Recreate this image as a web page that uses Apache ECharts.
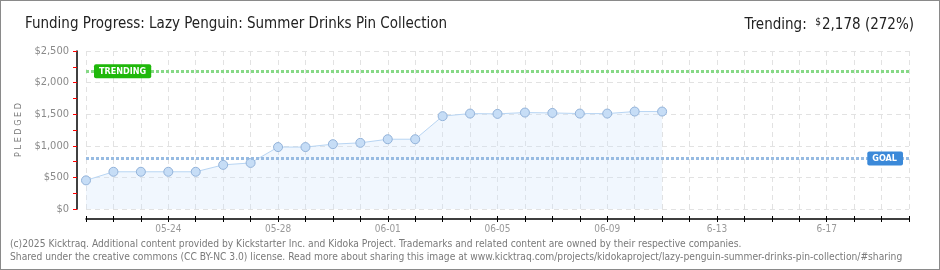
<!DOCTYPE html>
<html>
<head>
<meta charset="utf-8">
<script src="https://cdn.jsdelivr.net/npm/echarts@6/dist/echarts.min.js"></script>
<style>
html, body { margin: 0; padding: 0; background: #fff; }
#chart { width: 940px; height: 270px; box-sizing: border-box; border: 1px solid #8a8a8a; }
</style>
</head>
<body>
<div id="chart"></div>
<script>
var dates = ['05-21', '05-22', '05-23', '05-24', '05-25', '05-26', '05-27', '05-28', '05-29', '05-30', '05-31',
    '06-01', '06-02', '06-03', '06-04', '06-05', '06-06', '06-07', '06-08', '06-09', '06-10', '06-11',
    '6-12', '6-13', '6-14', '6-15', '6-16', '6-17', '6-18', '6-19', '6-20'];
var pledged = [453, 589, 589, 589, 589, 698, 729, 980, 980, 1026, 1047, 1104, 1104, 1469, 1510, 1505, 1526, 1520, 1510, 1510, 1542, 1542];
var goal = 800;
var trending = 2178;
var trendingPct = 272;

var font = '"DejaVu Sans Condensed", "DejaVu Sans", sans-serif';
var myChart = echarts.init(document.getElementById('chart'));

var hiddenValueAxis = function (gi) {
    return { gridIndex: gi, type: 'value', show: false, min: 0, max: 2500 };
};

option = {
    animation: false,
    backgroundColor: '#fff',
    title: [{
        text: 'Funding Progress: Lazy Penguin: Summer Drinks Pin Collection',
        left: 19,
        top: 11,
        textStyle: { fontFamily: font, fontSize: 15, fontWeight: 'normal', color: '#222' }
    }, {
        text: '{l|Trending:  }{s|$}{l|2,178 (' + trendingPct + '%)}',
        right: 20,
        top: 11,
        textStyle: {
            fontWeight: 'normal',
            rich: {
                l: { fontFamily: font, fontSize: 15, fontWeight: 'normal', color: '#222' },
                s: { fontFamily: font, fontSize: 10, fontWeight: 'normal', color: '#222', verticalAlign: 'top', padding: [0, 1, 6, 0] }
            }
        }
    }],
    grid: [
        { left: 85, right: 30, top: 50, bottom: 60 },   // 0: plot
        { left: 76, right: 30, top: 50, bottom: 60 },   // 1: y axis
        { left: 76, right: 30, top: 50, bottom: 60 },   // 2: red $250 ticks
        { left: 85, right: 30, top: 50, bottom: 50 },   // 3: x axis line + labels
        { left: 85, right: 30, top: 50, bottom: 50 }    // 4: inner half of x ticks
    ],
    xAxis: [{
        gridIndex: 0,
        type: 'category',
        data: dates,
        boundaryGap: false,
        axisLine: { show: false },
        axisTick: { show: false },
        axisLabel: { show: false },
        splitLine: {
            show: true,
            interval: 0,
            lineStyle: { color: '#e2e2e2', type: [5, 4] }
        }
    },
    hiddenValueAxis(1),
    hiddenValueAxis(2),
    {
        gridIndex: 3,
        type: 'category',
        data: dates,
        boundaryGap: false,
        axisLine: { show: true, onZero: false, lineStyle: { color: '#000', width: 1.5 } },
        axisTick: { show: true, interval: 0, length: 3, lineStyle: { color: '#000', width: 1 } },
        axisLabel: {
            interval: function (i) { return (i - 3) % 4 === 0; },
            color: '#999',
            fontFamily: font,
            fontSize: 10,
            margin: 5
        },
        splitLine: { show: false }
    }, {
        gridIndex: 4,
        type: 'category',
        data: dates,
        boundaryGap: false,
        axisLine: { show: false, onZero: false },
        axisTick: { show: true, inside: true, interval: 0, length: 3, lineStyle: { color: '#000', width: 1 } },
        axisLabel: { show: false },
        splitLine: { show: false }
    }],
    yAxis: [{
        gridIndex: 0,
        type: 'value',
        min: 0,
        max: 2500,
        interval: 500,
        axisLine: { show: false },
        axisTick: { show: false },
        axisLabel: { show: false },
        splitLine: {
            show: true,
            lineStyle: { color: '#e2e2e2', type: [5, 4] }
        }
    }, {
        gridIndex: 1,
        type: 'value',
        min: 0,
        max: 2500,
        interval: 500,
        name: 'P L E D G E D',
        nameLocation: 'middle',
        nameRotate: 90,
        nameGap: 47,
        nameTextStyle: { fontFamily: font, fontSize: 9, color: '#777' },
        axisLine: { show: true, onZero: false, lineStyle: { color: '#000', width: 1.5 } },
        axisTick: { show: true, length: 4, lineStyle: { color: '#000', width: 1 } },
        axisLabel: {
            color: '#8a8a8a',
            fontFamily: font,
            fontSize: 11,
            margin: 8,
            formatter: function (v) { return '$' + v.toLocaleString('en-US'); }
        },
        splitLine: { show: false }
    }, {
        gridIndex: 2,
        type: 'value',
        min: 0,
        max: 2500,
        interval: 250,
        axisLine: { show: false },
        axisTick: { show: true, length: 4, lineStyle: { color: '#f00', width: 1 } },
        axisLabel: { show: false },
        splitLine: { show: false }
    },
    hiddenValueAxis(3),
    hiddenValueAxis(4)],
    series: [{
        name: 'Pledged',
        type: 'line',
        xAxisIndex: 0,
        yAxisIndex: 0,
        data: pledged,
        symbol: 'circle',
        symbolSize: 9,
        showAllSymbol: true,
        lineStyle: { color: '#b8d5f3', width: 1 },
        itemStyle: { color: '#c6ddf6', borderColor: '#93b3da', borderWidth: 1 },
        areaStyle: { color: 'rgba(208,228,250,0.42)' },
        z: 3,
        markLine: {
            silent: true,
            symbol: 'none',
            data: [{
                yAxis: trending,
                lineStyle: { color: '#86d986', type: [3, 2], width: 3 },
                label: {
                    show: true,
                    formatter: 'TRENDING',
                    position: 'insideStart',
                    distance: 8,
                    color: '#fff',
                    fontFamily: font,
                    fontSize: 9,
                    fontWeight: 'bold',
                    backgroundColor: '#1fb80a',
                    borderRadius: 2,
                    padding: [3, 5, 2, 5]
                }
            }, {
                yAxis: goal,
                lineStyle: { color: '#97bbe2', type: [3, 2], width: 3 },
                label: {
                    show: true,
                    formatter: 'GOAL',
                    position: 'insideEnd',
                    distance: 6,
                    color: '#fff',
                    fontFamily: font,
                    fontSize: 9,
                    fontWeight: 'bold',
                    backgroundColor: '#3b89d9',
                    borderRadius: 2,
                    padding: [3, 6, 2, 5]
                }
            }]
        }
    }],
    graphic: [{
        type: 'text',
        left: 9,
        top: 238,
        style: {
            text: '(c)2025 Kicktraq. Additional content provided by Kickstarter Inc. and Kidoka Project. Trademarks and related content are owned by their respective companies.',
            fill: '#7a7a7a',
            font: '10.2px ' + font
        }
    }, {
        type: 'text',
        left: 9,
        top: 251,
        style: {
            text: 'Shared under the creative commons (CC BY-NC 3.0) license. Read more about sharing this image at www.kicktraq.com/projects/kidokaproject/lazy-penguin-summer-drinks-pin-collection/#sharing',
            fill: '#7a7a7a',
            font: '10.2px ' + font
        }
    }]
};
myChart.setOption(option);
</script>
</body>
</html>
